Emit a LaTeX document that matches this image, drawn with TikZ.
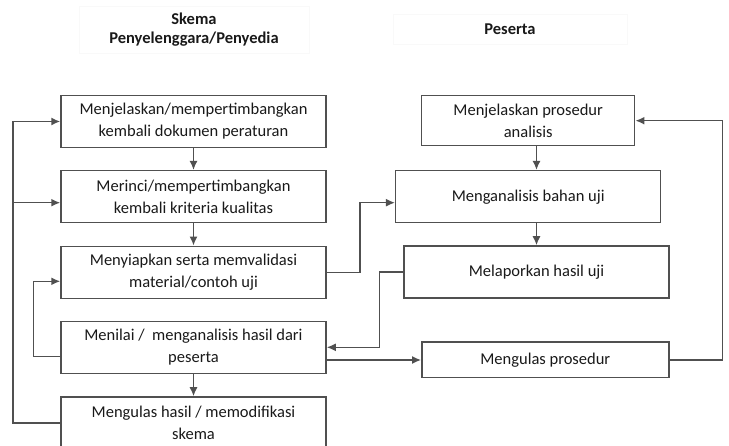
\documentclass[tikz,border=0pt]{standalone}
\usepackage{fontspec}
\setmainfont{Carlito}
\usetikzlibrary{arrows.meta, positioning}

\definecolor{linegray}{RGB}{80,80,80}

\begin{document}
\begin{tikzpicture}[x=1pt, y=-1pt,
  every node/.style={font=\fontsize{16.5}{22}\selectfont, text=black!90},
  box/.style={draw=linegray, line width=1.5pt, rectangle, align=center, inner sep=0pt, minimum width=265pt, minimum height=52pt},
  head/.style={draw=gray!5, rectangle, align=center, font=\fontsize{16.5}{19}\selectfont\bfseries},
  arr/.style={draw=linegray, line width=1.5pt, -{Latex[length=9pt,width=8pt]}},
  ln/.style={draw=linegray, line width=1.5pt}]
\useasboundingbox (0,0) rectangle (729,446);

\node[head, minimum width=230pt, minimum height=47pt] at (194,29.5) (hskema) {Skema\\Penyelenggara/Penyedia};
\node[head, minimum width=234pt, minimum height=30pt] at (510,29) (hpeserta) {Peserta};

\node[box] at (193.5,121.5) (jelas) {Menjelaskan/mempertimbangkan\\kembali dokumen peraturan};
\node[box] at (193.5,196.7) (rinci) {Merinci/mempertimbangkan\\kembali kriteria kualitas};
\node[box] at (193.5,272.3) (siap) {Menyiapkan serta memvalidasi\\material/contoh uji};
\node[box] at (193.5,347.3) (nilai) {Menilai /\ \ menganalisis hasil dari\\peserta};
\node[box] at (193.5,423) (ulashasil) {Mengulas hasil / memodifikasi\\skema};

\node[box, minimum width=213pt, minimum height=50pt] at (528.2,120.7) (prosedur) {Menjelaskan prosedur\\analisis};
\node[box] at (528.2,196.7) (analisis) {Menganalisis bahan uji};
\node[box] at (536.5,272) (lapor) {Melaporkan hasil uji};
\node[box, minimum width=247pt, minimum height=35.5pt] at (545.3,360) (ulasprosedur) {Mengulas prosedur};

\coordinate (kiri) at (13,0);
\coordinate (rinciin) at ([yshift=-6pt]rinci.west);
\coordinate (analisisin) at ([yshift=-6pt]analisis.west);

\draw[arr] (jelas) -- (rinci);
\draw[arr] (rinci) -- (siap);
\draw[arr] (nilai) -- (ulashasil);
\draw[arr] (lapor.north |- prosedur.south) -- (lapor.north |- analisis.north);
\draw[arr] (lapor.north |- analisis.south) -- (lapor.north);

\draw[arr] (ulashasil.west) -| (kiri |- jelas.west) -- (jelas.west);
\draw[arr] (rinciin -| kiri) -- (rinciin);
\draw[arr] ([yshift=-9pt]nilai.west) -- ++(-27,0) |- ([yshift=-9pt]siap.west);

\draw[arr] (siap.east) -- ++(33,0) |- (analisisin);
\draw[arr] (lapor.west) -- ++(-24,0) |- (nilai.east);
\draw[arr] (nilai.east |- ulasprosedur.west) -- (ulasprosedur.west);
\draw[arr] (ulasprosedur.east) -- ++(53,0) |- (prosedur.east);

\end{tikzpicture}
\end{document}
